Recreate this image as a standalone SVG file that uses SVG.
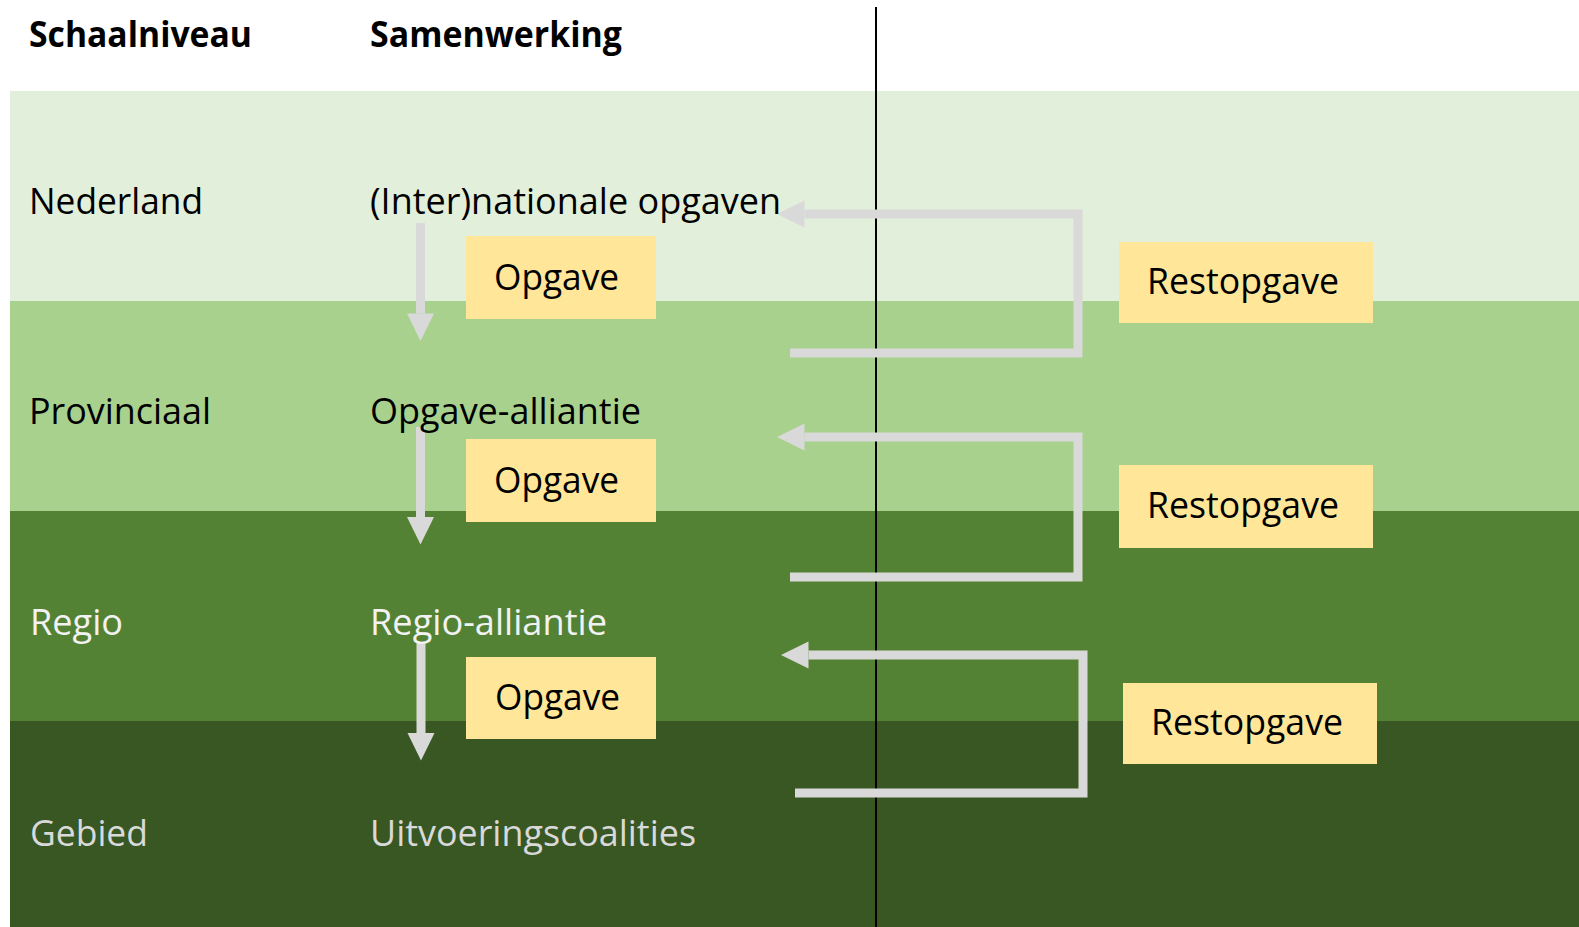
<svg xmlns="http://www.w3.org/2000/svg" width="1579" height="927" viewBox="0 0 1579 927">
  <style>
    text { font-family: "Open Sans", "Noto Sans", "Liberation Sans", sans-serif; font-size: 36px; }
    .hdr { font-weight: 700; fill: #000000; }
    .dark { fill: #000000; }
    .white { fill: #f2f2f2; }
    .grey { fill: #d9d9d9; }
    .box { fill: #ffe699; }
    .conn { fill: none; stroke: #d9d9d9; stroke-width: 9; stroke-linejoin: miter; }
  </style>
  <defs>
    <marker id="head" markerUnits="userSpaceOnUse" markerWidth="28" markerHeight="28" refX="0" refY="13.5" orient="auto" overflow="visible">
      <path d="M0,0 L27.5,13.5 L0,27 Z" fill="#d9d9d9"/>
    </marker>
  </defs>
  <rect x="0" y="0" width="1579" height="927" fill="#ffffff"/>
  <g id="bands">
    <rect x="10" y="91" width="1569" height="210" fill="#e2efda"/>
    <rect x="10" y="301" width="1569" height="210" fill="#a9d18e"/>
    <rect x="10" y="511" width="1569" height="210" fill="#548235"/>
    <rect x="10" y="721" width="1569" height="206" fill="#385723"/>
  </g>
  <line id="divider" x1="876" y1="7" x2="876" y2="927" stroke="#000000" stroke-width="2"/>
  <g id="headers">
    <text class="hdr" x="29" y="47" textLength="223" lengthAdjust="spacingAndGlyphs">Schaalniveau</text>
    <text class="hdr" x="370" y="47" textLength="252" lengthAdjust="spacingAndGlyphs">Samenwerking</text>
  </g>
  <g id="connectors">
    <path class="conn" d="M420.5,223 V313.5" marker-end="url(#head)"/>
    <path class="conn" d="M420.5,427 V517" marker-end="url(#head)"/>
    <path class="conn" d="M421,643 V733" marker-end="url(#head)"/>
    <path class="conn" d="M790,353 H1078 V214 H804.5" marker-end="url(#head)"/>
    <path class="conn" d="M790,577 H1078 V437 H804.5" marker-end="url(#head)"/>
    <path class="conn" d="M795,793 H1083 V655 H808.5" marker-end="url(#head)"/>
  </g>
  <g id="row-nederland">
    <text class="dark" x="29" y="214" textLength="174" lengthAdjust="spacingAndGlyphs">Nederland</text>
    <text class="dark" x="370" y="214" textLength="411" lengthAdjust="spacingAndGlyphs">(Inter)nationale opgaven</text>
  </g>
  <g id="row-provinciaal">
    <text class="dark" x="29" y="424" textLength="182" lengthAdjust="spacingAndGlyphs">Provinciaal</text>
    <text class="dark" x="370" y="424" textLength="271" lengthAdjust="spacingAndGlyphs">Opgave-alliantie</text>
  </g>
  <g id="row-regio">
    <text class="white" x="30" y="635" textLength="93" lengthAdjust="spacingAndGlyphs">Regio</text>
    <text class="white" x="370" y="635" textLength="237" lengthAdjust="spacingAndGlyphs">Regio-alliantie</text>
  </g>
  <g id="row-gebied">
    <text class="grey" x="30" y="846" textLength="118" lengthAdjust="spacingAndGlyphs">Gebied</text>
    <text class="grey" x="370" y="846" textLength="326" lengthAdjust="spacingAndGlyphs">Uitvoeringscoalities</text>
  </g>
  <g id="opgave-1">
    <rect class="box" x="466" y="236" width="190" height="83"/>
    <text class="dark" x="494" y="290" textLength="125" lengthAdjust="spacingAndGlyphs">Opgave</text>
  </g>
  <g id="opgave-2">
    <rect class="box" x="466" y="439" width="190" height="83"/>
    <text class="dark" x="494" y="493" textLength="125" lengthAdjust="spacingAndGlyphs">Opgave</text>
  </g>
  <g id="opgave-3">
    <rect class="box" x="466" y="657" width="190" height="82"/>
    <text class="dark" x="495" y="710" textLength="125" lengthAdjust="spacingAndGlyphs">Opgave</text>
  </g>
  <g id="restopgave-1">
    <rect class="box" x="1119" y="242" width="254" height="81"/>
    <text class="dark" x="1147" y="294" textLength="192" lengthAdjust="spacingAndGlyphs">Restopgave</text>
  </g>
  <g id="restopgave-2">
    <rect class="box" x="1119" y="465" width="254" height="83"/>
    <text class="dark" x="1147" y="518" textLength="192" lengthAdjust="spacingAndGlyphs">Restopgave</text>
  </g>
  <g id="restopgave-3">
    <rect class="box" x="1123" y="683" width="254" height="81"/>
    <text class="dark" x="1151" y="735" textLength="192" lengthAdjust="spacingAndGlyphs">Restopgave</text>
  </g>
</svg>
